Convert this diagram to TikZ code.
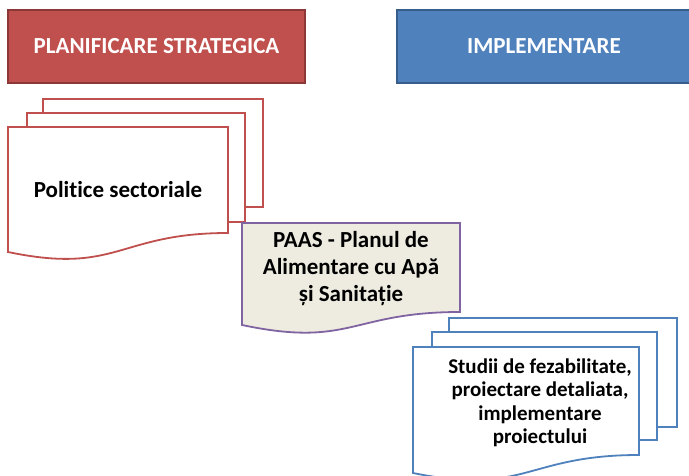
\documentclass[tikz,border=0pt]{standalone}
\usepackage{fontspec}
\setmainfont{Carlito}[Ligatures=NoCommon]
\usepackage{xcolor}
\definecolor{planred}{RGB}{192,80,77}
\definecolor{planredline}{RGB}{140,56,54}
\definecolor{implblue}{RGB}{79,129,189}
\definecolor{implblueline}{RGB}{56,93,138}
\definecolor{paaspurple}{RGB}{128,100,162}
\definecolor{paasbeige}{RGB}{238,236,225}
\tikzset{
  headbox/.style={draw, line width=1.5pt, minimum height=73pt, inner sep=0pt,
    text=white, font=\fontsize{23}{26}\selectfont\bfseries},
  page/.style={fill=white, line width=1.8pt},
  doctext/.style={align=center, inner sep=0pt, font=\fontsize{23}{27}\selectfont\bfseries}
}
\begin{document}
\begin{tikzpicture}[x=1pt,y=-1pt]
    \useasboundingbox (0,0) rectangle (689,476);

    % Headers
    \node[headbox, fill=planred, draw=planredline, minimum width=297pt] (plan) at (156.5,46.5) {PLANIFICARE STRATEGICA};
    \node[headbox, fill=implblue, draw=implblueline, minimum width=294pt] (impl) at (544,46.5) {IMPLEMENTARE};

    % Politice sectoriale
    \draw[page, draw=planred] (43,99) rectangle (263,207);
    \draw[page, draw=planred] (27,113) rectangle (245,222);
    \draw[page, draw=planred] (8,127) -- (228,127) -- (228,233)
        .. controls (118,233) and (118,275) .. (8,252) -- cycle;
    \node[doctext] (pol) at (118,190) {Politice sectoriale};

    % PAAS
    \draw[page, fill=paasbeige, draw=paaspurple] (242,223) -- (460,223) -- (460,312)
        .. controls (351,312) and (351,348) .. (242,325) -- cycle;
    \node[doctext] (paas) at (351,269)
        {PAAS - Planul de\\Alimentare cu Apă\\și Sanitație};

    % Studii
    \draw[page, draw=implblue] (449,318) rectangle (677,427);
    \draw[page, draw=implblue] (432,332) rectangle (657,440);
    \draw[page, draw=implblue] (413,347) -- (639,347) -- (639,455)
        .. controls (526,455) and (526,496) .. (413,473) -- cycle;
    \node[doctext, font=\fontsize{21}{23.5}\selectfont\bfseries] (studii) at (540,403)
        {Studii de fezabilitate,\\proiectare detaliata,\\implementare\\proiectului};
\end{tikzpicture}
\end{document}
